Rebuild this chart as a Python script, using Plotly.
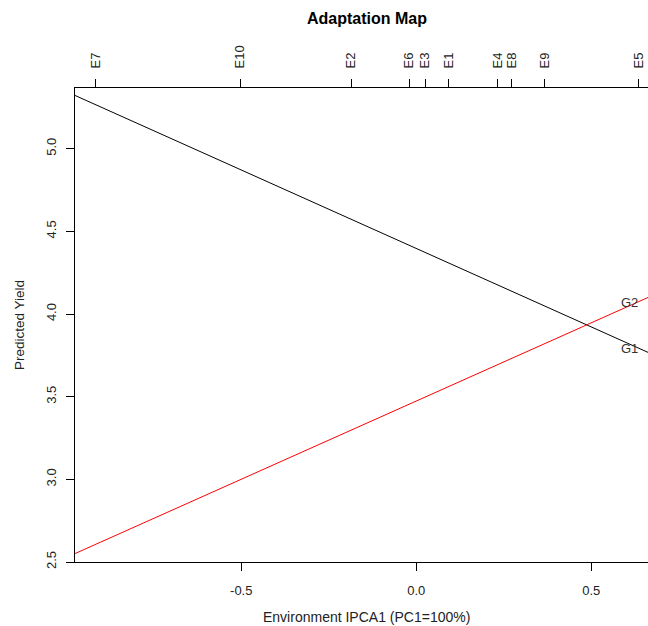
import plotly.graph_objects as go

# ---- data ----
env_names = ["E7", "E10", "E2", "E6", "E3", "E1", "E4", "E8", "E9", "E5"]
env_scores = [-0.916, -0.503, -0.186, -0.020, 0.025, 0.092, 0.232, 0.272, 0.366, 0.635]

genotypes = ["G1", "G2"]
line_x = [-0.975, 0.662]          # plot x-extent (left edge, visible right edge)
g1_yield = [5.322, 3.768]         # predicted yield at the line ends
g2_yield = [2.551, 4.100]
label_x = 0.640                   # labels sit just at E5
g1_label_y = 3.79
g2_label_y = 4.07

x_ticks = [-0.5, 0.0, 0.5]
x_ticktext = ["-0.5", "0.0", "0.5"]
y_ticks = [2.5, 3.0, 3.5, 4.0, 4.5, 5.0]
y_ticktext = ["2.5", "3.0", "3.5", "4.0", "4.5", "5.0"]

x_range = [-0.975, 0.662]
y_range = [2.5, 5.367]

FONT = "Liberation Sans, Arial, sans-serif"
W, H = 648, 626
L, R, T, B = 75, 0, 88, 64
PW, PH = W - L - R, H - T - B


def px_x(xp):
    return (xp - L) / PW


def px_y(yp):
    return (H - B - yp) / PH


fig = go.Figure()
fig.add_trace(go.Scatter(x=line_x, y=g1_yield, mode="lines",
                         line=dict(color="black", width=1), name="G1",
                         hoverinfo="skip"))
fig.add_trace(go.Scatter(x=line_x, y=g2_yield, mode="lines",
                         line=dict(color="#ff0000", width=1), name="G2",
                         hoverinfo="skip"))
# invisible trace so the top (environment) axis is drawn
fig.add_trace(go.Scatter(x=env_scores, y=[None] * len(env_scores), xaxis="x2",
                         mode="markers", marker=dict(opacity=0),
                         showlegend=False, hoverinfo="skip"))

for name, ly in zip(genotypes, [g1_label_y, g2_label_y]):
    fig.add_annotation(x=label_x, y=ly, xref="x", yref="y", text=name,
                       showarrow=False, xanchor="right", yanchor="middle",
                       font=dict(family=FONT, size=13, color="#333333"))

fig.add_annotation(x=px_x(366.5), y=px_y(19), xref="paper", yref="paper",
                   text="<b>Adaptation Map</b>", showarrow=False,
                   xanchor="center", yanchor="middle",
                   font=dict(family=FONT, size=16, color="black"))
fig.add_annotation(x=px_x(366.5), y=px_y(617), xref="paper", yref="paper",
                   text="Environment IPCA1 (PC1=100%)", showarrow=False,
                   xanchor="center", yanchor="middle",
                   font=dict(family=FONT, size=14, color="#222222"))
fig.add_annotation(x=px_x(19), y=px_y(325), xref="paper", yref="paper",
                   text="Predicted Yield", showarrow=False, textangle=-90,
                   xanchor="center", yanchor="middle",
                   font=dict(family=FONT, size=13.5, color="#222222"))

axis_common = dict(showgrid=False, zeroline=False, showline=True,
                   linecolor="black", linewidth=1, ticks="outside",
                   ticklen=8, tickwidth=1, tickcolor="black",
                   tickfont=dict(family=FONT, size=13, color="#222222"))

fig.update_layout(
    width=W, height=H, autosize=False,
    margin=dict(l=L, r=R, t=T, b=B, pad=0),
    paper_bgcolor="white", plot_bgcolor="white",
    showlegend=False,
    xaxis=dict(range=x_range, tickvals=x_ticks, ticktext=x_ticktext,
               tickangle=0, ticklabelstandoff=8, **axis_common),
    xaxis2=dict(range=x_range, overlaying="x", side="top",
                tickvals=env_scores, ticktext=env_names, tickangle=-90,
                ticklabelstandoff=8, **axis_common),
    yaxis=dict(range=y_range, tickvals=y_ticks, ticktext=y_ticktext,
               tickangle=-90, ticklabelstandoff=5, **axis_common),
)

fig.write_html("out.html")
